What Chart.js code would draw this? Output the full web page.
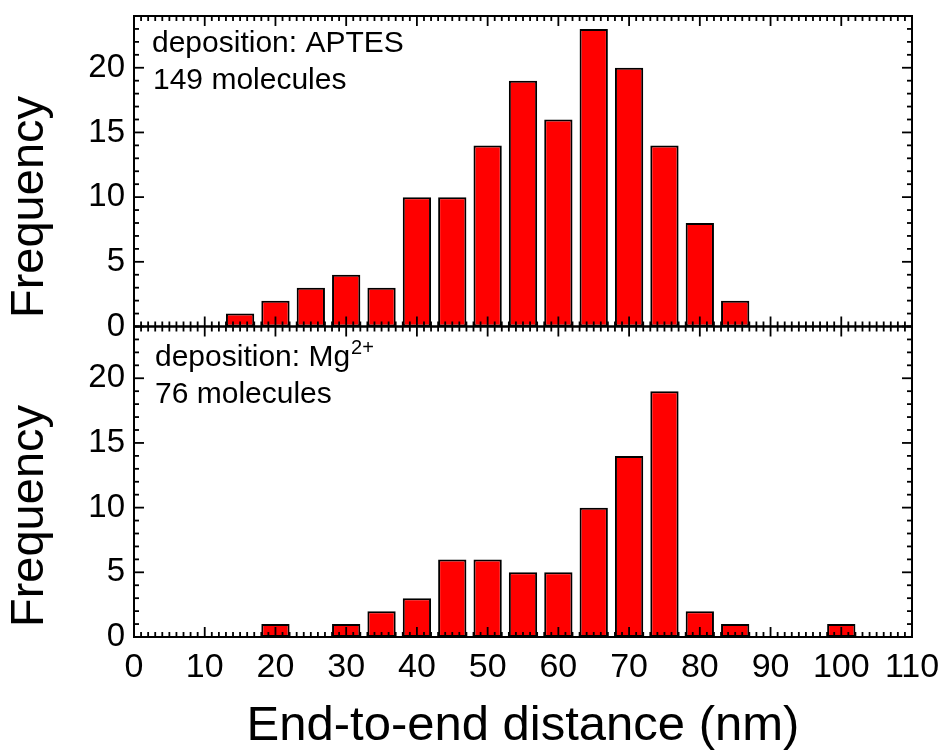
<!DOCTYPE html>
<html><head><meta charset="utf-8">
<script src="https://cdn.jsdelivr.net/npm/chart.js@4.4.1/dist/chart.umd.min.js"></script>
<style>html,body{margin:0;padding:0;background:#fff}#wrap{width:945px;height:751px;position:relative}</style>
</head><body><div id="wrap"><canvas id="c" width="945" height="751"></canvas></div>
<script>
// ---- data ----
const binCenters  = [15,20,25,30,35,40,45,50,55,60,65,70,75,80,85,90,95,100];
const aptesCounts = [1,2,3,4,3,10,10,14,19,16,23,20,14,8,2,0,0,0];
const mgCounts    = [0,1,0,1,2,3,6,6,5,5,10,14,19,2,1,0,0,1];
const xTickValues = [0,10,20,30,40,50,60,70,80,90,100,110];
const yTickValues = [0,5,10,15,20];
const topLabel1 = 'deposition: APTES';
const topLabel2 = '149 molecules';
const botLabel1 = 'deposition: Mg';
const botLabel1Sup = '2+';
const botLabel2 = '76 molecules';
const xTitle = 'End-to-end distance (nm)';
const yTitle = 'Frequency';

const FONT = '"Liberation Sans", Arial, sans-serif';
const toPoints = (counts) => binCenters.map((x,i)=>({x, y: counts[i]})).filter(p => p.y > 0);

const framePlugin = {
  id: 'frame',
  afterDatasetsDraw(chart) {
    const ctx = chart.ctx, x = chart.scales.x;
    const line = (a,b,c,d) => { ctx.beginPath(); ctx.moveTo(a,b); ctx.lineTo(c,d); ctx.stroke(); };
    ctx.save();
    ctx.strokeStyle = '#000';
    ['yTop','yBot'].forEach(id => {
      const y = chart.scales[id];
      const L = x.left, R = x.right, T = y.top, B = y.bottom;
      ctx.lineWidth = 2;
      ctx.strokeRect(L, T, R-L, B-T);
      ctx.lineWidth = 1.8;
      for (let v = 0; v <= 110; v++) {
        const px = x.getPixelForValue(v);
        const len = v % 10 === 0 ? 10 : 5;
        line(px, B, px, B-len);
        line(px, T, px, T+len);
      }
      for (let v = 0; v <= 24; v++) {
        const py = y.getPixelForValue(v);
        const len = v % 5 === 0 ? 10 : 5;
        line(L, py, L+len, py);
        line(R, py, R-len, py);
      }
    });
    // annotations
    ctx.fillStyle = '#000';
    ctx.textBaseline = 'alphabetic';
    ctx.textAlign = 'left';
    const yT = chart.scales.yTop, yB = chart.scales.yBot;
    ctx.font = '30px ' + FONT;
    ctx.fillText(topLabel1, x.left + 18, yT.top + 36);
    ctx.fillText(topLabel2, x.left + 19, yT.top + 73);
    ctx.fillText(botLabel1, x.left + 21, yB.top + 39);
    const w = ctx.measureText(botLabel1).width;
    ctx.fillText(botLabel2, x.left + 21, yB.top + 76);
    ctx.font = '20px ' + FONT;
    ctx.fillText(botLabel1Sup, x.left + 21 + w + 1, yB.top + 27);
    // y titles
    ctx.font = '47px ' + FONT;
    ctx.textAlign = 'center';
    ctx.textBaseline = 'middle';
    [[yT, 207], [yB, 516]].forEach(([s, cy]) => {
      ctx.save();
      ctx.translate(30, cy);
      ctx.rotate(-Math.PI/2);
      ctx.fillText(yTitle, 0, 0);
      ctx.restore();
    });
    ctx.restore();
  }
};

const yScale = () => ({
  type: 'linear', position: 'left', stack: 'panels', stackWeight: 1,
  min: 0, max: 24, offset: false,
  afterBuildTicks: s => { s.ticks = yTickValues.map(v => ({value: v})); },
  afterFit: s => { s.width = 134; s.paddingTop = 0; s.paddingBottom = 0; s.paddingLeft = 0; s.paddingRight = 0; },
  grid: { display: false, drawTicks: false },
  border: { display: false },
  ticks: { color: '#000', font: { family: FONT, size: 33 }, padding: 9 }
});

new Chart(document.getElementById('c'), {
  type: 'bar',
  data: {
    datasets: [
      { label: 'APTES', data: toPoints(aptesCounts), yAxisID: 'yTop',
        backgroundColor: '#ff0000', borderColor: '#000', borderWidth: 2, borderSkipped: false,
        barPercentage: 0.8, categoryPercentage: 1, grouped: false },
      { label: 'Mg', data: toPoints(mgCounts), yAxisID: 'yBot',
        backgroundColor: '#ff0000', borderColor: '#000', borderWidth: 2, borderSkipped: false,
        barPercentage: 0.8, categoryPercentage: 1, grouped: false }
    ]
  },
  options: {
    responsive: false, animation: false, devicePixelRatio: 1,
    layout: { padding: { left: 0, top: 16, right: 33, bottom: 0 } },
    plugins: { legend: { display: false }, tooltip: { enabled: false } },
    scales: {
      x: {
        type: 'linear', position: 'bottom', min: 0, max: 110, offset: false,
        afterBuildTicks: s => { s.ticks = xTickValues.map(v => ({value: v})); },
        afterFit: s => { s.height = 114; s.paddingTop = 0; s.paddingBottom = 0; s.paddingLeft = 0; s.paddingRight = 0; },
        grid: { display: false, drawTicks: false, offset: false },
        border: { display: false },
        ticks: { color: '#000', font: { family: FONT, size: 34 }, padding: 10, maxRotation: 0, autoSkip: false },
        title: { display: true, text: xTitle, color: '#000', font: { family: FONT, size: 49, lineHeight: 1 }, padding: { top: 0, bottom: 0 } }
      },
      yBot: yScale(),
      yTop: yScale()
    }
  },
  plugins: [framePlugin]
});
</script>
</body></html>
